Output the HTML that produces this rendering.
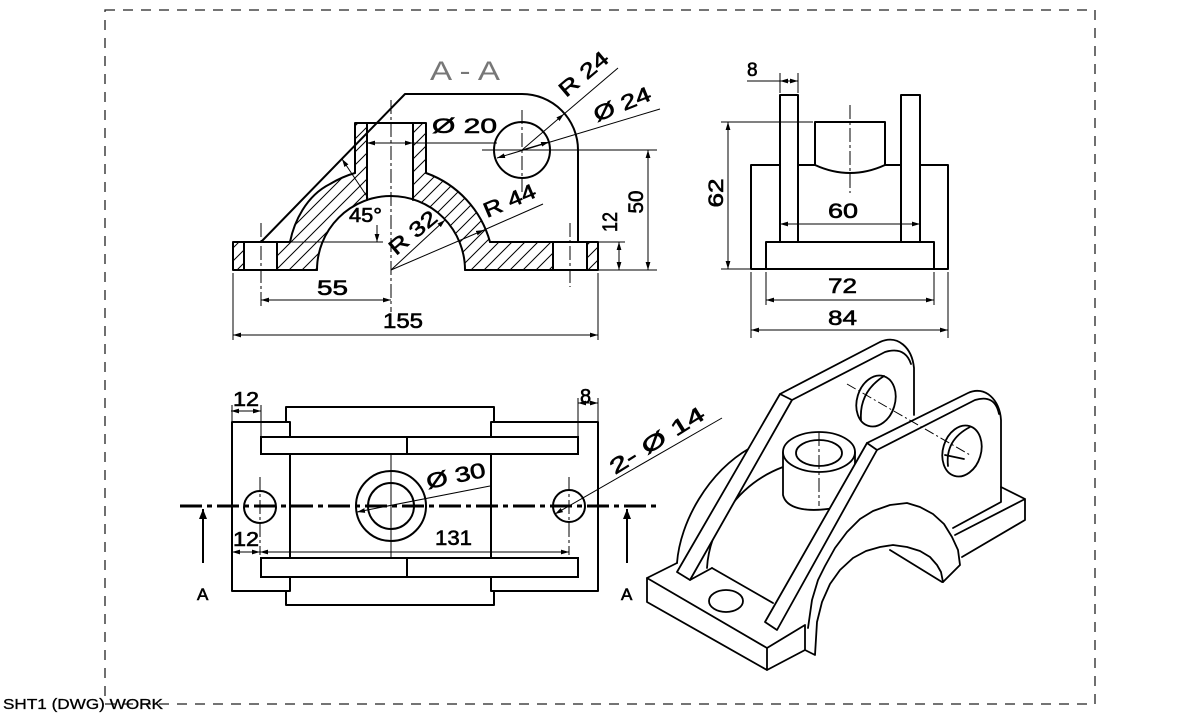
<!DOCTYPE html>
<html><head><meta charset="utf-8"><style>
html,body{margin:0;padding:0;background:#fff;}
svg{display:block;}
.o{stroke:#000;stroke-width:2;fill:none;stroke-linejoin:round;stroke-linecap:round}
.f{stroke:#000;stroke-width:2;fill:#fff}
.t{stroke:#000;stroke-width:1;fill:none}
.cl{stroke:#000;stroke-width:1;fill:none;stroke-dasharray:14 3 3 3}
.d{stroke:#000;stroke-width:1;fill:none;marker-start:url(#a);marker-end:url(#a)}
.e{stroke:#000;stroke-width:1;fill:none;marker-end:url(#a)}
text{font-family:"Liberation Sans",sans-serif;font-size:21px;fill:#000;stroke:#000;stroke-width:0.6}
</style></head><body>
<svg width="1200" height="718" viewBox="0 0 1200 718" xmlns="http://www.w3.org/2000/svg">
<defs>
<marker id="a" viewBox="0 0 10 6" refX="10" refY="3" markerWidth="8" markerHeight="5" markerUnits="userSpaceOnUse" orient="auto-start-reverse"><path d="M0 0L10 3L0 6z" fill="#000"/></marker>
<marker id="b" viewBox="0 0 10 8" refX="10" refY="4" markerWidth="10" markerHeight="8" markerUnits="userSpaceOnUse" orient="auto-start-reverse"><path d="M0 0L10 4L0 8z" fill="#000"/></marker>
<pattern id="h" width="13" height="13" patternUnits="userSpaceOnUse"><path d="M-1 1L1 -1M0 13L13 0M12 14L14 12" stroke="#000" stroke-width="1"/></pattern>
</defs>
<rect width="1200" height="718" fill="#fff"/>
<!-- border -->
<rect x="105" y="10" width="990" height="694" fill="none" stroke="#222" stroke-width="1.3" stroke-dasharray="10 8"/>
<text x="3" y="709" style="font-size:15px;stroke-width:0.3" textLength="160" lengthAdjust="spacingAndGlyphs">SHT1 (DWG) WORK</text>

<!-- ============ SECTION A-A ============ -->
<path fill="url(#h)" d="M277 242 L290 242 C294 222 306 196 330 184 C340 178 348 175 355 173 L355 123 L367 123 L367 200 A74 74 0 0 0 317 270 L277 270 Z"/>
<path fill="url(#h)" d="M413 123 L426 123 L426 173 A102 102 0 0 1 490 242 L553 242 L553 270 L465 270 A74 74 0 0 0 413 200 Z"/>
<rect fill="url(#h)" x="233" y="242" width="11" height="28"/>
<rect fill="url(#h)" x="587" y="242" width="11" height="28"/>
<path class="o" d="M261 242 L405 94 L522 94 A56 56 0 0 1 578 150 L578 242"/>
<path class="o" d="M233 242 H290 M233 242 V270 H317 M244 242 V270 M277 242 V270"/>
<path class="o" d="M490 242 H598 V270 H465 M553 242 V270 M587 242 V270"/>
<path class="o" d="M317 270 A74 74 0 0 1 465 270"/>
<path class="o" d="M426 173 A102 102 0 0 1 490 242"/>
<path class="o" d="M290 242 C294 222 306 196 330 184 C340 178 348 175 355 173"/>
<path class="o" d="M355 173 V123 H426 V173 M367 123 V200 M413 123 V200"/>
<circle class="o" cx="522" cy="150" r="28"/>
<path class="cl" d="M391 100 V312 M261 223 V307 M570 223 V287 M522 110 V192"/>
<line class="t" x1="482" y1="150" x2="657" y2="150"/>
<!-- dims -->
<line class="d" x1="367" y1="143" x2="413" y2="143"/>
<line class="t" x1="413" y1="143" x2="497" y2="143"/>
<line class="t" x1="497" y1="158" x2="660" y2="109" style="marker-start:url(#a)"/>
<line class="e" x1="522" y1="150" x2="549" y2="142"/>
<line class="e" x1="522" y1="150" x2="564" y2="114"/>
<line class="t" x1="564" y1="114" x2="618" y2="68"/>
<line class="e" x1="391" y1="270" x2="484" y2="230"/>
<line class="t" x1="484" y1="230" x2="543" y2="204"/>
<line class="e" x1="391" y1="270" x2="445" y2="220"/>
<line class="d" x1="619" y1="242" x2="619" y2="270"/>
<path class="t" d="M598 242 H625 M598 270 H657"/>
<line class="d" x1="648" y1="150" x2="648" y2="270"/>
<line class="d" x1="261" y1="300" x2="391" y2="300"/>
<line class="d" x1="233" y1="335" x2="598" y2="335"/>
<path class="t" d="M233 273 V340 M598 273 V340"/>
<line class="t" x1="290" y1="242" x2="383" y2="242"/>
<line class="e" x1="377" y1="225" x2="377" y2="242"/>
<line class="t" x1="342" y1="159" x2="368" y2="198" style="marker-start:url(#a)"/>
<!-- texts -->
<text x="430" y="80" style="font-size:27px;fill:#777;stroke:none" textLength="70" lengthAdjust="spacingAndGlyphs">A - A</text>
<text x="432" y="133" textLength="65" lengthAdjust="spacingAndGlyphs">Ø 20</text>
<text x="349" y="222" style="font-size:20px" textLength="33" lengthAdjust="spacingAndGlyphs">45°</text>
<text x="317" y="295" textLength="31" lengthAdjust="spacingAndGlyphs">55</text>
<text x="383" y="328" textLength="40" lengthAdjust="spacingAndGlyphs">155</text>
<text transform="translate(566,98) rotate(-40)" textLength="58" lengthAdjust="spacingAndGlyphs">R 24</text>
<text transform="translate(597,122) rotate(-22)" textLength="60" lengthAdjust="spacingAndGlyphs">Ø 24</text>
<text transform="translate(487,218) rotate(-23)" textLength="55" lengthAdjust="spacingAndGlyphs">R 44</text>
<text transform="translate(396,256) rotate(-40)" textLength="56" lengthAdjust="spacingAndGlyphs">R 32</text>
<text transform="translate(617,222) rotate(-90)" text-anchor="middle" textLength="20" lengthAdjust="spacingAndGlyphs">12</text>
<text transform="translate(643,202) rotate(-90)" text-anchor="middle" textLength="23" lengthAdjust="spacingAndGlyphs">50</text>

<!-- ============ SIDE VIEW ============ -->
<path class="o" d="M751 269 V165 H780 M798 165 H815 M885 165 H901 M920 165 H948 V269 H751"/>
<path class="o" d="M766 269 V242 H934 V269"/>
<rect class="o" x="780" y="95" width="18" height="147"/>
<rect class="o" x="901" y="95" width="19" height="147"/>
<path class="o" d="M815 165 V122 H885 V165 M815 165 Q850 181 885 165"/>
<line class="cl" x1="850" y1="105" x2="850" y2="193"/>
<line class="t" x1="747" y1="81" x2="780" y2="81"/>
<line class="d" x1="780" y1="81" x2="798" y2="81"/>
<path class="t" d="M780 73 V93 M798 73 V93"/>
<line class="d" x1="728" y1="122" x2="728" y2="269"/>
<path class="t" d="M721 122 H813 M721 269 H750"/>
<line class="d" x1="780" y1="224" x2="920" y2="224"/>
<line class="d" x1="766" y1="300" x2="934" y2="300"/>
<path class="t" d="M766 272 V305 M934 272 V305"/>
<line class="d" x1="751" y1="330" x2="948" y2="330"/>
<path class="t" d="M751 272 V338 M948 272 V338"/>
<text x="747" y="76" style="font-size:19px">8</text>
<text transform="translate(723,193) rotate(-90)" text-anchor="middle" textLength="29" lengthAdjust="spacingAndGlyphs">62</text>
<text x="828" y="218" textLength="30" lengthAdjust="spacingAndGlyphs">60</text>
<text x="828" y="293" textLength="29" lengthAdjust="spacingAndGlyphs">72</text>
<text x="828" y="325" textLength="29" lengthAdjust="spacingAndGlyphs">84</text>

<!-- ============ PLAN VIEW ============ -->
<path class="o" d="M232 422 H290 M232 422 V591 H290 M491 422 H598 V591 H491 M286 422 V407 H494 V422 M286 591 V605 H494 V591 M290 422 V591 M491 422 V591"/>
<rect class="f" x="261" y="437" width="317" height="17"/>
<rect class="f" x="261" y="558" width="317" height="19"/>
<path class="o" d="M407 437 V454 M407 558 V577"/>
<line class="t" x1="391" y1="454" x2="391" y2="558"/>
<circle class="o" cx="391" cy="506" r="35"/>
<circle class="o" cx="391" cy="506" r="23"/>
<circle class="o" cx="260" cy="507" r="16"/>
<circle class="o" cx="569" cy="506" r="16"/>
<path class="cl" d="M260 477 V555 M569 477 V555"/>
<line x1="180" y1="506" x2="658" y2="506" stroke="#000" stroke-width="3" stroke-dasharray="22 5 5 5"/>
<line x1="203" y1="563" x2="203" y2="509" stroke="#000" stroke-width="2" marker-end="url(#b)"/>
<line x1="627" y1="563" x2="627" y2="509" stroke="#000" stroke-width="2" marker-end="url(#b)"/>
<text x="197" y="600" style="font-size:17px">A</text>
<text x="621" y="600" style="font-size:17px">A</text>
<line class="d" x1="231" y1="411" x2="261" y2="411"/>
<path class="t" d="M261 405 V437 M232 405 V422"/>
<line class="d" x1="578" y1="403" x2="598" y2="403"/>
<path class="t" d="M578 398 V437 M598 398 V422"/>
<line class="d" x1="232" y1="552" x2="260" y2="552"/>
<line class="d" x1="260" y1="552" x2="569" y2="552"/>
<line class="t" x1="357" y1="512" x2="490" y2="486" style="marker-start:url(#a)"/>
<line class="t" x1="555" y1="514" x2="722" y2="418" style="marker-start:url(#a)"/>
<text x="233" y="406" style="font-size:20px" textLength="26" lengthAdjust="spacingAndGlyphs">12</text>
<text x="580" y="403" style="font-size:20px">8</text>
<text x="233" y="546" style="font-size:20px" textLength="26" lengthAdjust="spacingAndGlyphs">12</text>
<text x="435" y="545" textLength="37" lengthAdjust="spacingAndGlyphs">131</text>
<text transform="translate(428,489) rotate(-12)" textLength="60" lengthAdjust="spacingAndGlyphs">Ø 30</text>
<text transform="translate(615,475) rotate(-32)" textLength="108" lengthAdjust="spacingAndGlyphs">2-  Ø  14</text>

<!-- ============ ISOMETRIC ============ -->
<g class="o" style="stroke-width:1.8">
<!-- base left end -->
<path d="M647 578 L767 648 L767 670 L647 602 Z"/>
<path d="M767 648 L805 625 L805 650 L767 670"/>
<path d="M647 578 L677 563"/>
<ellipse cx="726" cy="601" rx="17" ry="11"/>
<path d="M712 568 L773 603"/>
<!-- saddle back-left arcs -->
<path d="M677 563 C680 522 708 472 750 448"/>
<path d="M707 568 C709 530 735 485 783 467"/>
<!-- rear plate -->
<path d="M677 572 L780 394 L792 400 L690 580 Z" fill="#fff"/>
<path d="M690 580 L712 568"/>
<path d="M780 394 L880 342 C898 334 912 348 914 368 L914 415"/>
<path d="M792 400 L885 352 Q905 346 911 364"/>
<g transform="rotate(17 876 401)"><ellipse cx="876" cy="401" rx="19" ry="26"/></g>
<path d="M884 376 Q859 392 861 420"/>
<!-- boss -->
<path d="M783 452 L783 495 C786 508 805 513 834 508" fill="#fff"/>
<ellipse cx="819" cy="452" rx="36" ry="20" fill="#fff"/>
<ellipse cx="819" cy="453" rx="23" ry="13"/>
<path d="M855 452 L855 465"/>
<!-- front plate -->
<path d="M765 622 L867 443 L877 450 L777 630 Z" fill="#fff"/>
<path d="M867 443 L968 393 C985 385 1000 400 1001 420 L1001 502 L953 528"/>
<path d="M877 450 L975 400 Q995 394 999 414"/>
<g transform="rotate(17 962 451)"><ellipse cx="962" cy="451" rx="19" ry="26"/></g>
<path d="M970 427 Q945 440 948 466 M945 455 L964 459"/>
<!-- base right -->
<path d="M1001 487 L1025 499 L1025 520 L962 557 M1025 499 L955 535"/>
<!-- saddle front -->
<path d="M808 628 L812 600 L818 580 L825 566 L835 548 L847 532 L860 519 L873 511 L890 505 L907 503 L920 507 L933 514 L944 524 L952 537 L958 550 L960 565 L943 582" fill="#fff"/>
<path d="M805 650 L815 655 L817 622 L822 602 L830 584 L840 570 L853 558 L866 551 L880 547 L893 545 L907 547 L920 551 L930 557 L937 565 L941 572 L943 582"/>
<path d="M890 550 L942 582"/>
</g>
<path class="cl" d="M819 432 V506"/>
<path class="t" d="M847 384 L970 455" stroke-dasharray="10 3 2 3"/>
</svg>
</body></html>
